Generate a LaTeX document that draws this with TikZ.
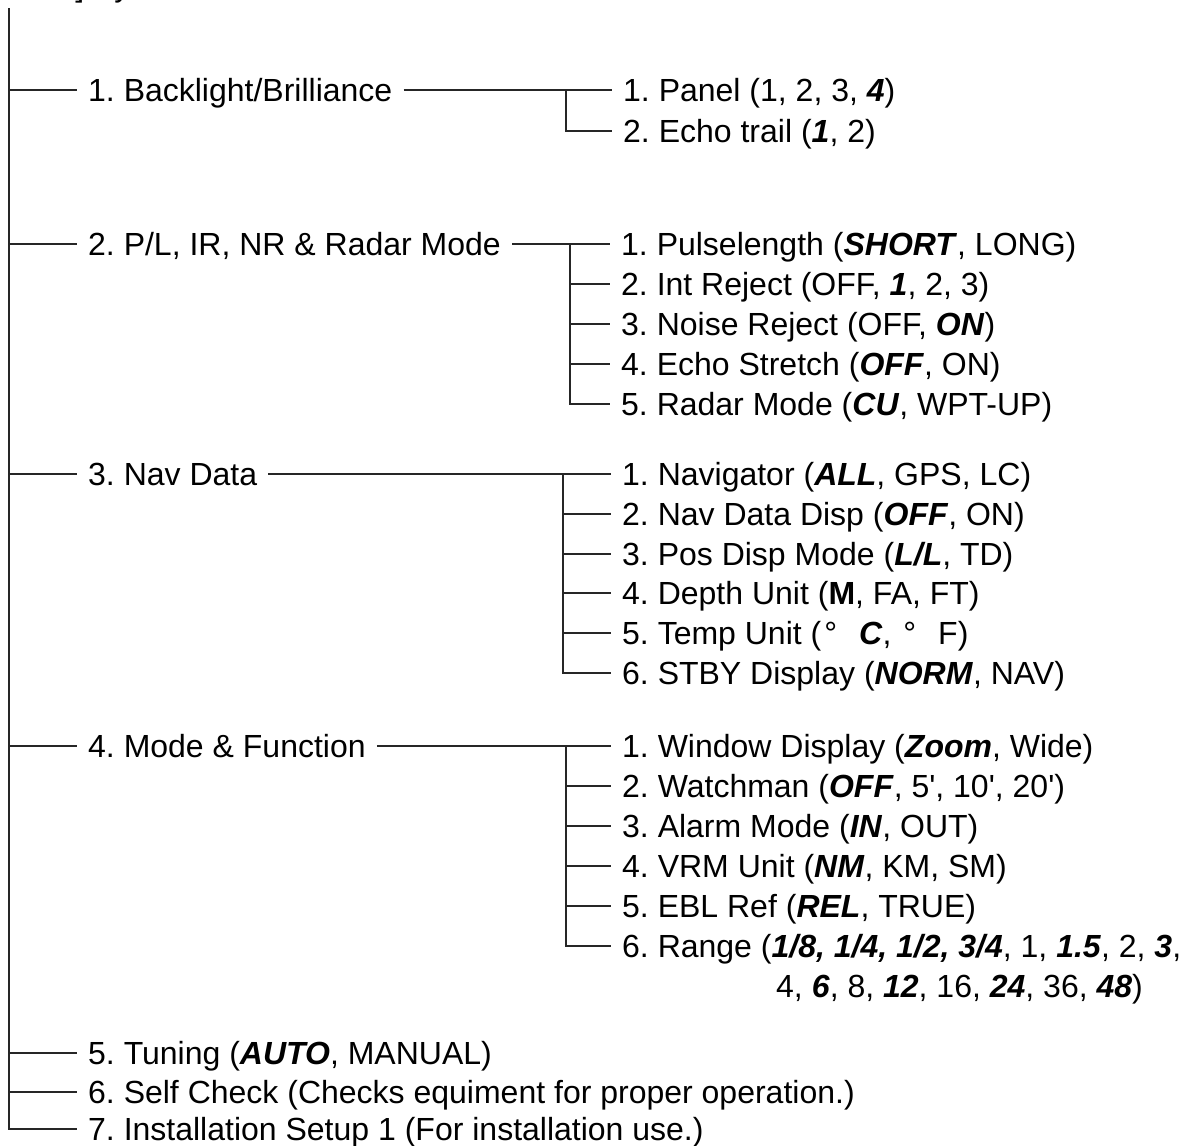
\documentclass[tikz,border=0pt]{standalone}
\usepackage{fontspec}
\setmainfont{Liberation Sans}
\frenchspacing
\newcommand{\BI}[1]{\textbf{\textit{#1}}}
\newcommand{\sq}{\textquotesingle}
\begin{document}
\begin{tikzpicture}[x=1pt,y=-1pt,
  txt/.style={anchor=west, inner xsep=11pt, inner ysep=0pt, text height=23pt, text depth=0pt,
    font=\fontsize{32}{38}\selectfont},
  conn/.style={draw=black!85, line width=1.2pt}]
\useasboundingbox (0,0) rectangle (1179,1146);
% partially visible heading
\node[anchor=base west, inner sep=0pt, font=\fontsize{32}{38}\selectfont] (head) at (-28,-4) {[MENU] System Menu};
\coordinate (trunk) at (9,8);
% level 1
\node[txt] (b1) at (77,90)   {1. Backlight/Brilliance};
\node[txt] (b2) at (77,244)  {2. P/L, IR, NR \& Radar Mode};
\node[txt] (b3) at (77,474)  {3. Nav Data};
\node[txt] (b4) at (77,746)  {4. Mode \& Function};
\node[txt] (b5) at (77,1053) {5. Tuning (\BI{AUTO}, MANUAL)};
\node[txt] (b6) at (77,1092) {6. Self Check (Checks equiment for proper operation.)};
\node[txt] (b7) at (77,1129) {7. Installation Setup 1 (For installation use.)};
% item 1 children
\node[txt] (c11) at (612,90)  {1. Panel (1, 2, 3, \BI{4})};
\node[txt] (c12) at (612,131) {2. Echo trail (\BI{1}, 2)};
% item 2 children
\node[txt] (c21) at (610,244) {1. Pulselength (\BI{SHORT}, LONG)};
\node[txt] (c22) at (610,284) {2. Int Reject (OFF, \BI{1}, 2, 3)};
\node[txt] (c23) at (610,324) {3. Noise Reject (OFF, \BI{ON})};
\node[txt] (c24) at (610,364) {4. Echo Stretch (\BI{OFF}, ON)};
\node[txt] (c25) at (610,404) {5. Radar Mode (\BI{CU}, WPT-UP)};
% item 3 children
\node[txt] (c31) at (611,474) {1. Navigator (\BI{ALL}, GPS, LC)};
\node[txt] (c32) at (611,514) {2. Nav Data Disp (\BI{OFF}, ON)};
\node[txt] (c33) at (611,554) {3. Pos Disp Mode (\BI{L/L}, TD)};
\node[txt] (c34) at (611,593) {4. Depth Unit (\textbf{M}, FA, FT)};
\node[txt] (c35) at (611,633) {5. Temp Unit (\hspace{3pt}°\hspace{22pt}\BI{C}, \hspace{3pt}°\hspace{22pt}F)};
\node[txt] (c36) at (611,673) {6. STBY Display (\BI{NORM}, NAV)};
% item 4 children
\node[txt] (c41) at (611,746) {1. Window Display (\BI{Zoom}, Wide)};
\node[txt] (c42) at (611,786) {2. Watchman (\BI{OFF}, 5\sq, 10\sq, 20\sq)};
\node[txt] (c43) at (611,826) {3. Alarm Mode (\BI{IN}, OUT)};
\node[txt] (c44) at (611,866) {4. VRM Unit (\BI{NM}, KM, SM)};
\node[txt] (c45) at (611,906) {5. EBL Ref (\BI{REL}, TRUE)};
\node[txt] (c46) at (611,946) {6. Range (\BI{1/8, 1/4, 1/2, 3/4}, 1, \BI{1.5}, 2, \BI{3},};
\node[txt] (c46b) at (765,986) {4, \BI{6}, 8, \BI{12}, 16, \BI{24}, 36, \BI{48})};
% vertical branch x positions
\coordinate (v1) at (566,0);
\coordinate (v2) at (570,0);
\coordinate (v3) at (563,0);
\coordinate (v4) at (566,0);
% trunk
\draw[conn] (trunk) |- (b7.west);
\foreach \n in {b1,b2,b3,b4,b5,b6}{\draw[conn] (trunk |- \n.west) -- (\n.west);}
% item 1
\draw[conn] (b1.east) -- (c11.west);
\draw[conn] (v1 |- c11.west) |- (c12.west);
% item 2
\draw[conn] (b2.east) -- (c21.west);
\draw[conn] (v2 |- c21.west) |- (c25.west);
\foreach \n in {c22,c23,c24}{\draw[conn] (v2 |- \n.west) -- (\n.west);}
% item 3
\draw[conn] (b3.east) -- (c31.west);
\draw[conn] (v3 |- c31.west) |- (c36.west);
\foreach \n in {c32,c33,c34,c35}{\draw[conn] (v3 |- \n.west) -- (\n.west);}
% item 4
\draw[conn] (b4.east) -- (c41.west);
\draw[conn] (v4 |- c41.west) |- (c46.west);
\foreach \n in {c42,c43,c44,c45}{\draw[conn] (v4 |- \n.west) -- (\n.west);}
\end{tikzpicture}
\end{document}
